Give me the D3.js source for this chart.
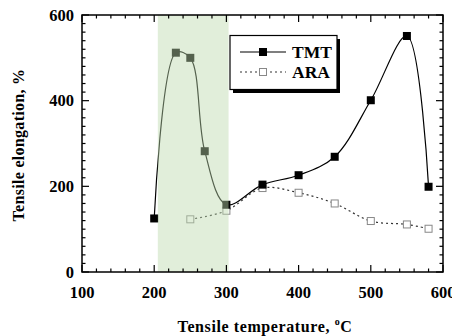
<!DOCTYPE html>
<html><head><meta charset="utf-8">
<script src="https://cdn.jsdelivr.net/npm/d3@7"></script>
<style>body{margin:0;background:#fff}svg{display:block}text{font-family:"Liberation Serif","Times New Roman",serif;font-weight:bold;fill:#000}</style>
</head><body><svg id="c" width="452" height="336"></svg>
<script>
const tmtTemp = [200, 230, 250, 270, 300, 350, 400, 450, 500, 550, 580];
const tmtElong = [125, 512, 500, 282, 157, 204, 226, 269, 401, 551, 199];
const araTemp = [250, 300, 350, 400, 450, 500, 550, 580];
const araElong = [123, 143, 196, 185, 160, 119, 111, 101];
const xTicks = [100, 200, 300, 400, 500, 600];
const yTicks = [0, 200, 400, 600];
const shadeRange = [205, 303];
const seriesNames = ["TMT", "ARA"];

const svg = d3.select("#c");
const L = 82, R = 443, T = 15, B = 272;
const x = d3.scaleLinear().domain([100, 600]).range([L, R]);
const y = d3.scaleLinear().domain([0, 600]).range([B, T]);

const tmt = tmtTemp.map((t, i) => [t, tmtElong[i]]);
const ara = araTemp.map((t, i) => [t, araElong[i]]);
const line = d3.line().x(d => x(d[0])).y(d => y(d[1])).curve(d3.curveCatmullRom.alpha(0.5));

svg.append("path").attr("d", line(ara)).attr("fill", "none").attr("stroke", "#333")
  .attr("stroke-width", 1.2).attr("stroke-dasharray", "2,3");
svg.append("path").attr("d", line(tmt)).attr("fill", "none").attr("stroke", "#000").attr("stroke-width", 1.2);
const ms = 7;
svg.selectAll(".ara").data(ara).join("rect")
  .attr("x", d => x(d[0]) - ms / 2).attr("y", d => y(d[1]) - ms / 2)
  .attr("width", ms).attr("height", ms).attr("fill", "#fff").attr("stroke", "#888").attr("stroke-width", 1);
svg.selectAll(".tmt").data(tmt).join("rect")
  .attr("x", d => x(d[0]) - 4).attr("y", d => y(d[1]) - 4)
  .attr("width", 8).attr("height", 8).attr("fill", "#000");

svg.append("rect").attr("x", x(shadeRange[0])).attr("y", T)
  .attr("width", x(shadeRange[1]) - x(shadeRange[0])).attr("height", B - T)
  .attr("fill", "rgb(189,217,174)").attr("opacity", 0.45);

const xMinor = d3.range(100, 601, 20);
const yMinor = d3.range(0, 601, 20);
const ax = svg.append("g").attr("stroke", "#000").attr("stroke-width", 1.2);
xMinor.forEach(v => {
  const len = v % 100 === 0 ? 7 : 3.5;
  ax.append("line").attr("x1", x(v)).attr("x2", x(v)).attr("y1", B).attr("y2", B - len);
  ax.append("line").attr("x1", x(v)).attr("x2", x(v)).attr("y1", T).attr("y2", T + len);
});
yMinor.forEach(v => {
  const len = v % 200 === 0 ? 7 : 3.5;
  ax.append("line").attr("x1", L).attr("x2", L + len).attr("y1", y(v)).attr("y2", y(v));
  ax.append("line").attr("x1", R).attr("x2", R - len).attr("y1", y(v)).attr("y2", y(v));
});
svg.append("rect").attr("x", L).attr("y", T).attr("width", R - L).attr("height", B - T)
  .attr("fill", "none").attr("stroke", "#000").attr("stroke-width", 1.5);

svg.selectAll(".xl").data(xTicks).join("text").attr("x", d => x(d)).attr("y", 298)
  .attr("text-anchor", "middle").attr("font-size", 16.5).text(d => d);
svg.selectAll(".yl").data(yTicks).join("text").attr("x", 74).attr("y", d => y(d) + 5.5)
  .attr("text-anchor", "end").attr("font-size", 16.5).text(d => d);

const xt = svg.append("text").attr("x", 265).attr("y", 332).attr("text-anchor", "middle")
  .attr("font-size", 16).attr("letter-spacing", 0.6);
xt.append("tspan").text("Tensile temperature, ");
xt.append("tspan").attr("font-size", 10).attr("dy", -7).text("o");
xt.append("tspan").attr("dy", 7).text("C");
svg.append("text").attr("transform", "translate(24,145) rotate(-90)").attr("text-anchor", "middle")
  .attr("font-size", 16).attr("letter-spacing", 0.3).text("Tensile elongation, %");

const lg = svg.append("g");
lg.append("rect").attr("x", 233).attr("y", 39).attr("width", 107).attr("height", 54).attr("fill", "#000");
lg.append("rect").attr("x", 230).attr("y", 35.5).attr("width", 107).attr("height", 54)
  .attr("fill", "#fff").attr("stroke", "#000").attr("stroke-width", 1.2);
const rows = [52, 72];
lg.append("line").attr("x1", 240).attr("x2", 286).attr("y1", rows[0]).attr("y2", rows[0]).attr("stroke", "#000").attr("stroke-width", 1.2);
lg.append("rect").attr("x", 259).attr("y", rows[0] - 4).attr("width", 8).attr("height", 8).attr("fill", "#000");
lg.append("line").attr("x1", 240).attr("x2", 286).attr("y1", rows[1]).attr("y2", rows[1]).attr("stroke", "#333").attr("stroke-width", 1.2).attr("stroke-dasharray", "2,3");
lg.append("rect").attr("x", 263 - ms / 2).attr("y", rows[1] - ms / 2).attr("width", ms).attr("height", ms).attr("fill", "#fff").attr("stroke", "#888");
seriesNames.forEach((n, i) => {
  lg.append("text").attr("x", 292).attr("y", rows[i] + 6).attr("font-size", 17.5).text(n);
});
</script></body></html>
